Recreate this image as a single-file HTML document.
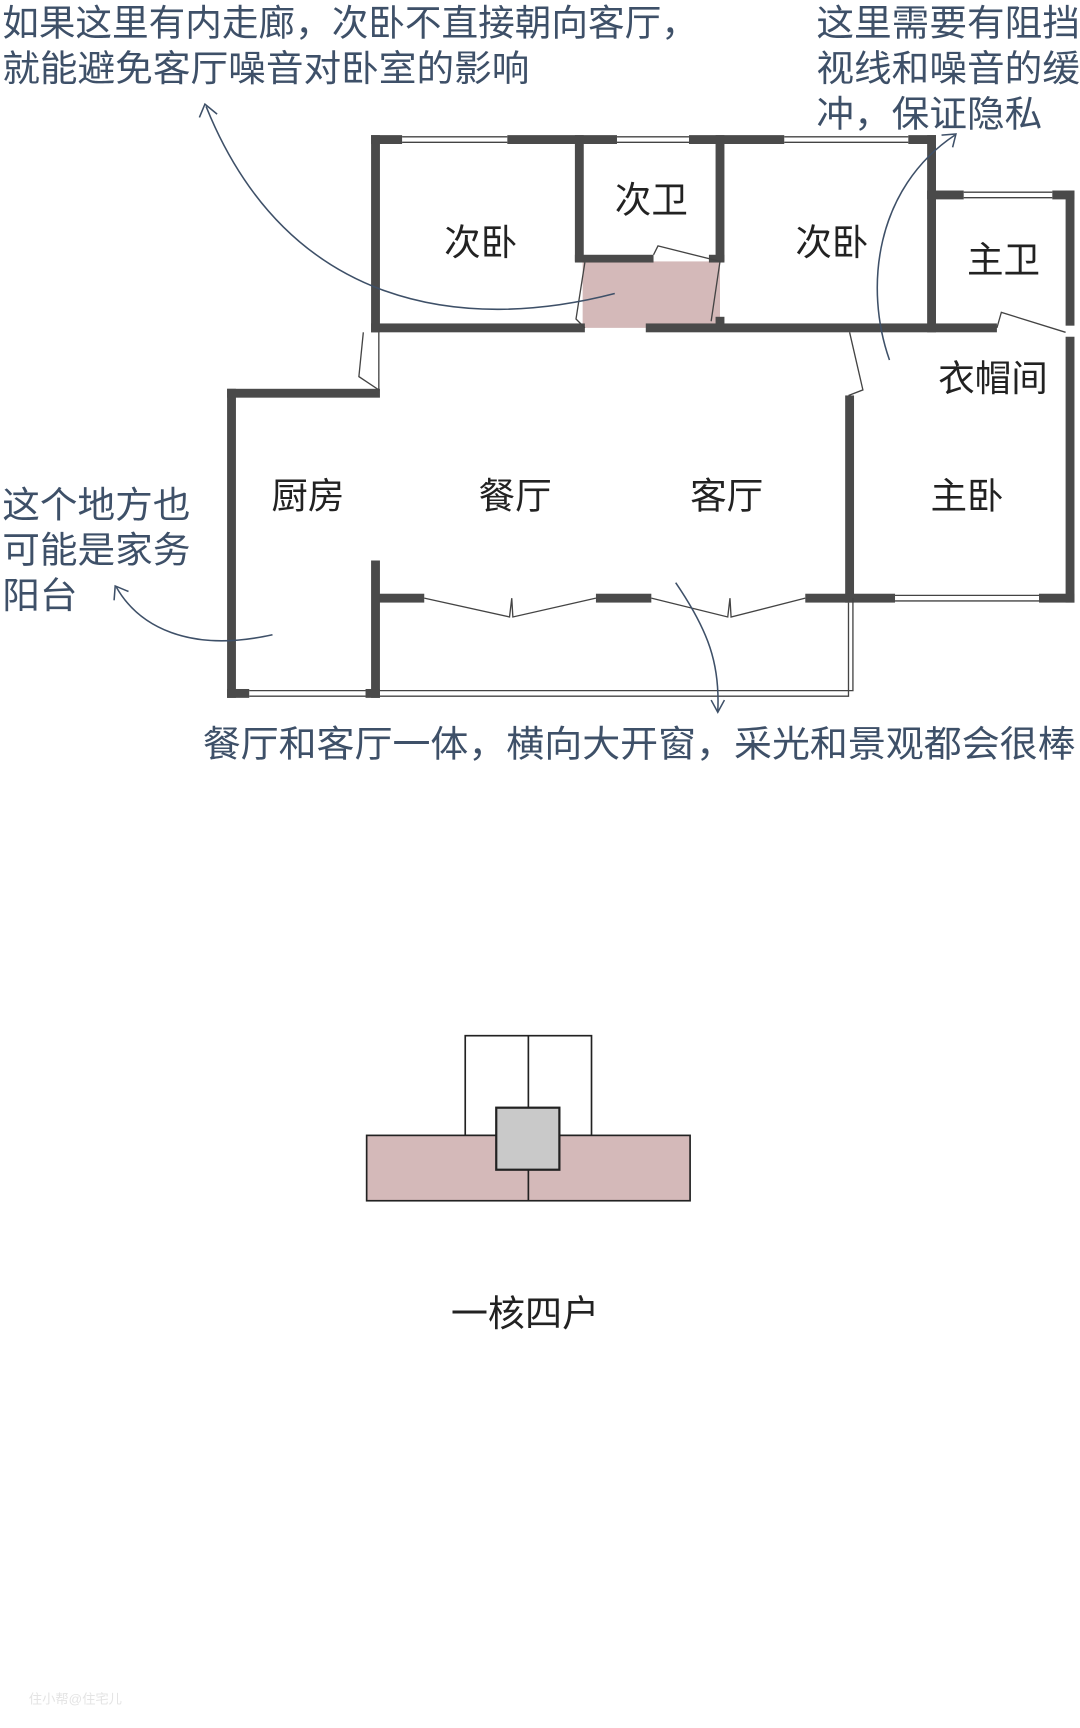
<!DOCTYPE html>
<html><head><meta charset="utf-8"><style>
html,body{margin:0;padding:0;background:#fff;width:1080px;height:1728px;overflow:hidden}
svg{display:block}
text{font-family:"Liberation Sans","Noto Sans CJK SC",sans-serif}
.a{fill:#3e5068;font-size:33px}
.r{fill:#222;font-size:33px}
</style></head><body>
<svg width="1080" height="1728" viewBox="0 0 975 1560" xmlns="http://www.w3.org/2000/svg">
<rect x="526" y="236" width="124" height="60" fill="#d4b9b9"/>
<g fill="#4a4a4a">
<rect x="335" y="122" width="28" height="8"/><rect x="458" y="122" width="99" height="8"/><rect x="622" y="122" width="86" height="8"/><rect x="820" y="122" width="25" height="8"/>
<rect x="335" y="122" width="8" height="178"/>
<rect x="335" y="292" width="193" height="8"/>
<rect x="519" y="122" width="8" height="114"/>
<rect x="519" y="230" width="71" height="7"/>
<rect x="640" y="230" width="14" height="7"/>
<rect x="646" y="122" width="8" height="114"/>
<rect x="646" y="286" width="8" height="10"/>
<rect x="583" y="292" width="317" height="8"/>
<rect x="837" y="122" width="8" height="178"/>
<rect x="837" y="172" width="33" height="8"/><rect x="950" y="172" width="20" height="8"/>
<rect x="962" y="172" width="8" height="122"/>
<rect x="962" y="304" width="8" height="240"/>
<rect x="763" y="357" width="8" height="187"/>
<rect x="763" y="536" width="45" height="8"/><rect x="938" y="536" width="32" height="8"/>
<rect x="727" y="536" width="40" height="8"/>
<rect x="538" y="536" width="50" height="8"/>
<rect x="339" y="536" width="44" height="8"/>
<rect x="335" y="506" width="8" height="124"/>
<rect x="205" y="351" width="138" height="8"/>
<rect x="205" y="351" width="8" height="279"/>
<rect x="205" y="622" width="20" height="8"/><rect x="330" y="622" width="13" height="8"/>
</g>
<g fill="none" stroke="#444" stroke-width="1.2">
<path d="M363 123.5H458M363 128.5H458M557 123.5H622M557 128.5H622M708 123.5H820M708 128.5H820"/>
<path d="M870 173.5H950M870 178.5H950M808 537.5H938M808 542.5H938M225 623.5H330M225 628.5H330"/>
<path d="M343 623.5H770V540M343 628.5H766V544"/>
<path d="M328 300L324 340L342 352L342 300"/>
<path d="M528 237L520 288L528 296"/>
<path d="M590 230L594 222L650 236L642 290"/>
<path d="M767 300L779 352L766 357"/>
<path d="M900 296L904 282L962 300"/>
<path d="M383 540L460 557L462 540L463 557L538 540"/>
<path d="M588 540L657 557L659 540L660 557L727 540"/>
</g>
<g fill="none" stroke="#3e5068" stroke-width="1.4">
<path d="M555 265C420 300 260 280 186 96"/><path d="M180 106L185 94L196 103"/>
<path d="M803 325C780 260 790 170 862 122"/><path d="M850 122L863 121L860 133"/>
<path d="M246 573C170 590 125 565 105 530"/><path d="M103 542L104 529L116 534"/>
<path d="M610 526C640 570 650 600 648 642"/><path d="M642 632L648 643L654 632"/>
</g>
<text class="a" x="2" y="32" textLength="628" lengthAdjust="spacingAndGlyphs">如果这里有内走廊，次卧不直接朝向客厅，</text>
<text class="a" x="2" y="73" textLength="476" lengthAdjust="spacingAndGlyphs">就能避免客厅噪音对卧室的影响</text>
<text class="a" x="737" y="32" textLength="238" lengthAdjust="spacingAndGlyphs">这里需要有阻挡</text>
<text class="a" x="737" y="73" textLength="238" lengthAdjust="spacingAndGlyphs">视线和噪音的缓</text>
<text class="a" x="737" y="114" textLength="204" lengthAdjust="spacingAndGlyphs">冲，保证隐私</text>
<text class="a" x="2" y="467" textLength="170" lengthAdjust="spacingAndGlyphs">这个地方也</text>
<text class="a" x="2" y="508" textLength="170" lengthAdjust="spacingAndGlyphs">可能是家务</text>
<text class="a" x="2" y="549" textLength="68" lengthAdjust="spacingAndGlyphs">阳台</text>
<text class="a" x="183" y="683" textLength="788" lengthAdjust="spacingAndGlyphs">餐厅和客厅一体，横向大开窗，采光和景观都会很棒</text>
<text class="r" x="401" y="230">次卧</text>
<text class="r" x="555" y="192">次卫</text>
<text class="r" x="718" y="230">次卧</text>
<text class="r" x="873" y="246">主卫</text>
<text class="r" x="847" y="353">衣帽间</text>
<text class="r" x="245" y="459">厨房</text>
<text class="r" x="432" y="459">餐厅</text>
<text class="r" x="623" y="459">客厅</text>
<text class="r" x="840" y="459">主卧</text>
<g stroke="#222" stroke-width="1.5">
<rect x="420" y="935" width="114" height="90" fill="#fff"/>
<line x1="477" y1="935" x2="477" y2="1000"/>
<rect x="331" y="1025" width="292" height="59" fill="#d4b9b9"/>
<line x1="477" y1="1050" x2="477" y2="1084"/>
<rect x="448" y="1000" width="57" height="56" fill="#c9c9c9" stroke-width="2"/>
</g>
<text x="407" y="1197" textLength="134" lengthAdjust="spacingAndGlyphs" style="font-size:33px;fill:#222">一核四户</text>
<text x="26" y="1538" style="font-size:12px;fill:#e4e4e4">住小帮@住宅儿</text>
</svg>
</body></html>
